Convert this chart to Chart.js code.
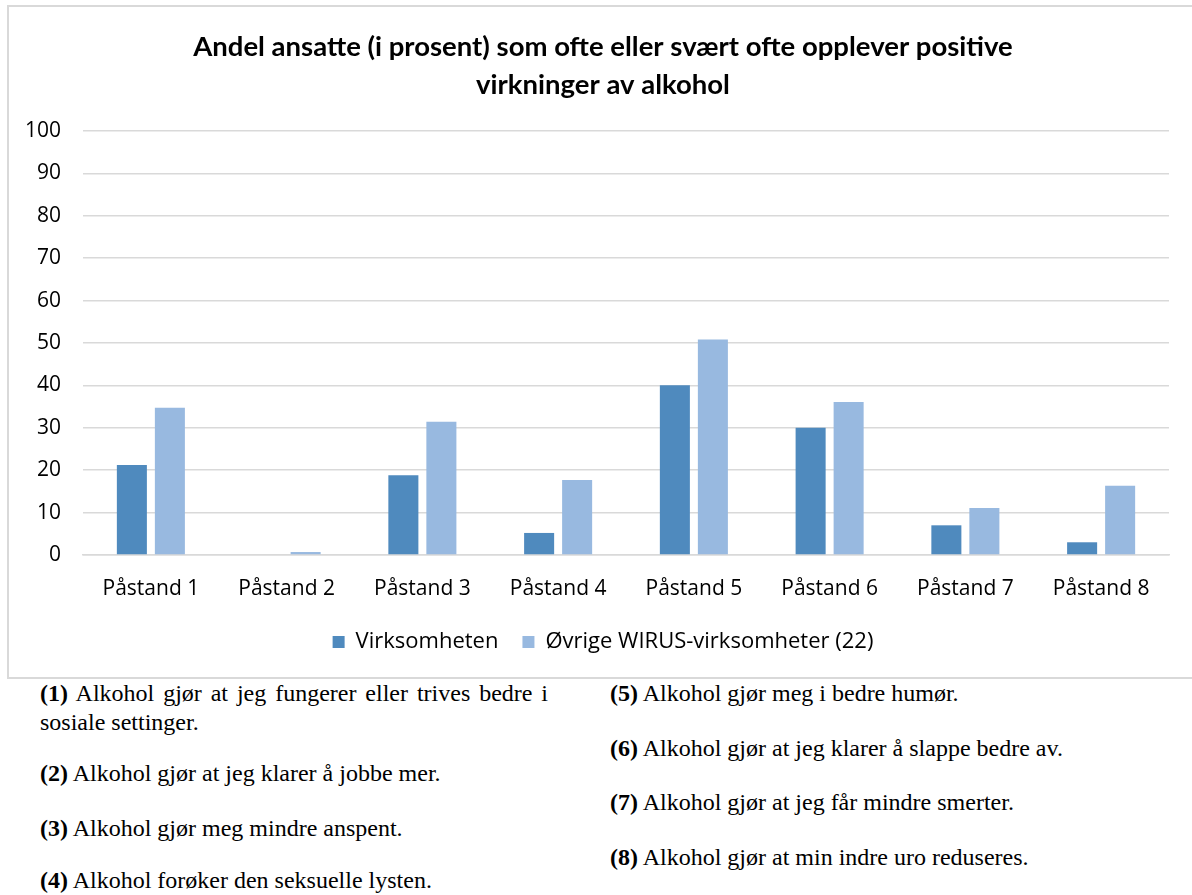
<!DOCTYPE html>
<html>
<head>
<meta charset="utf-8">
<script src="https://cdn.jsdelivr.net/npm/chart.js@4.4.1/dist/chart.umd.min.js"></script>
<style>
  html, body { margin: 0; padding: 0; background: #fff; overflow: hidden; width: 1192px; height: 895px; }
  #box { position: absolute; left: 7px; top: 5px; width: 1200px; height: 674px; border: 2px solid #d9d9d9; box-sizing: border-box; }
  #c { position: absolute; left: 8px; top: 6px; }
  .note { position: absolute; font-family: "Liberation Serif", "Times New Roman", serif; font-size: 24px; color: #000; line-height: 29px; margin: 0; }
  .note b { font-weight: bold; }
</style>
</head>
<body>
<div id="box"></div>
<canvas id="c" width="1190" height="657"></canvas>
<p class="note" style="left:40px; top:679px; width:508px; text-align:justify;"><b>(1)</b> Alkohol gjør at jeg fungerer eller trives bedre i sosiale settinger.</p>
<p class="note" style="left:40px; top:759px;"><b>(2)</b> Alkohol gjør at jeg klarer å jobbe mer.</p>
<p class="note" style="left:40px; top:814px;"><b>(3)</b> Alkohol gjør meg mindre anspent.</p>
<p class="note" style="left:40px; top:866px;"><b>(4)</b> Alkohol forøker den seksuelle lysten.</p>
<p class="note" style="left:610px; top:679px;"><b>(5)</b> Alkohol gjør meg i bedre humør.</p>
<p class="note" style="left:610px; top:734px;"><b>(6)</b> Alkohol gjør at jeg klarer å slappe bedre av.</p>
<p class="note" style="left:610px; top:788px;"><b>(7)</b> Alkohol gjør at jeg får mindre smerter.</p>
<p class="note" style="left:610px; top:843px;"><b>(8)</b> Alkohol gjør at min indre uro reduseres.</p>
<script>
const categories = ["Påstand 1", "Påstand 2", "Påstand 3", "Påstand 4", "Påstand 5", "Påstand 6", "Påstand 7", "Påstand 8"];
const virksomheten = [21.2, 0, 18.8, 5.2, 40, 30, 7, 3];
const ovrige = [34.7, 0.7, 31.4, 17.7, 50.8, 36.1, 11.1, 16.3];
const seriesNames = ["Virksomheten", "Øvrige WIRUS-virksomheter (22)"];
const titleLines = ["Andel ansatte (i prosent) som ofte eller svært ofte opplever positive", "virkninger av alkohol"];
const yMin = 0, yMax = 100, yStep = 10;

const sans = "'Open Sans', 'Noto Sans', sans-serif";
new Chart(document.getElementById('c'), {
  type: 'bar',
  data: {
    labels: categories,
    datasets: [
      { label: seriesNames[0], data: virksomheten, backgroundColor: '#4F8ABE' },
      { label: seriesNames[1], data: ovrige, backgroundColor: '#98B9E0' }
    ]
  },
  options: {
    responsive: false,
    animation: false,
    devicePixelRatio: 1,
    categoryPercentage: 0.56,
    barPercentage: 0.79,
    layout: { padding: 0 },
    plugins: {
      title: {
        display: true,
        text: titleLines,
        color: '#000',
        font: { family: "Lato, sans-serif", size: 27.5, weight: 'bold', lineHeight: 1.38 },
        padding: { top: 22, bottom: 27 }
      },
      legend: {
        position: 'bottom',
        labels: {
          color: '#000',
          boxWidth: 12, boxHeight: 12,
          padding: 24,
          font: { family: sans, size: 22 }
        }
      },
      tooltip: { enabled: false }
    },
    scales: {
      x: {
        grid: { display: false, drawTicks: false },
        border: { display: true, color: '#d9d9d9', width: 1.5 },
        ticks: { color: '#000', padding: 21, font: { family: sans, size: 21 }, maxRotation: 0 },
        afterFit: (s) => { s.height = 52; }
      },
      y: {
        min: yMin, max: yMax,
        grid: { color: '#d9d9d9', lineWidth: 1.5, drawTicks: false },
        border: { display: false },
        ticks: { stepSize: yStep, color: '#000', padding: 22, font: { family: sans, size: 21 } },
        afterFit: (s) => { s.width = 75; }
      },
      yRight: {
        display: true,
        position: 'right',
        grid: { display: false, drawTicks: false },
        border: { display: false },
        ticks: { display: false },
        afterFit: (s) => { s.width = 29; }
      }
    }
  }
});
</script>
</body>
</html>
